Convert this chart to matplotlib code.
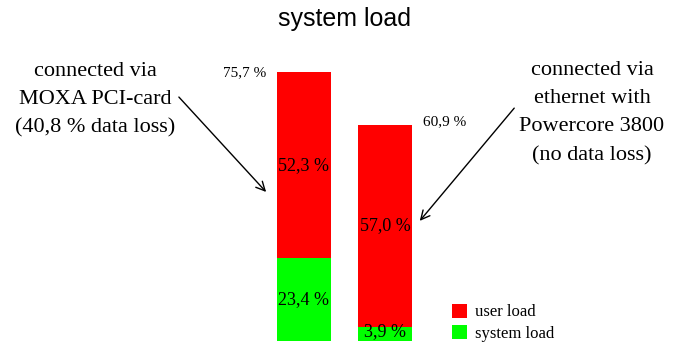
import matplotlib.pyplot as plt

# data
setups = ["MOXA PCI-card", "ethernet / Powercore 3800"]
system_load = [23.4, 3.9]
user_load = [52.3, 57.0]
totals = [75.7, 60.9]
legend_labels = ["user load", "system load"]

H = 345
fig = plt.figure(figsize=(6.8, 3.45), dpi=100)
ax = fig.add_axes([223 / 680, 4 / H, 243 / 680, 284 / H])
ax.set_xlim(-1, 2)
ax.set_ylim(0, 80)
ax.axis('off')

x = [0, 1]
w = 54 / 81
b1 = ax.bar(x, system_load, width=w, color='#00ff00', label=legend_labels[1])
b2 = ax.bar(x, user_load, width=w, bottom=system_load, color='#ff0000', label=legend_labels[0])

serif = 'Liberation Serif'
# inside labels
for i in range(2):
    ax.text(x[i], system_load[i] + user_load[i] / 2, f"{user_load[i]:.1f} %".replace('.', ','),
            ha='center', va='center', family=serif, fontsize=13)
ax.text(x[0], system_load[0] / 2, f"{system_load[0]:.1f} %".replace('.', ','),
        ha='center', va='center', family=serif, fontsize=13)
ax.text(x[1], 0.3, f"{system_load[1]:.1f} %".replace('.', ','),
        ha='center', va='bottom', family=serif, fontsize=13)

# totals
ax.text(x[0] - w / 2 - 0.13, totals[0], f"{totals[0]:.1f} %".replace('.', ','),
        ha='right', va='center', family=serif, fontsize=11)
ax.text(x[1] + w / 2 + 0.13, totals[1] + 1, f"{totals[1]:.1f} %".replace('.', ','),
        ha='left', va='center', family=serif, fontsize=11)

# annotations
fig.text(95 / 680, 1 - 100 / H, "connected via\nMOXA PCI-card\n(40,8 % data loss)",
         ha='center', va='center', family=serif, fontsize=16, linespacing=1.66)
ax.annotate("", xy=(268, H - 194), xycoords='figure pixels',
            xytext=(177, H - 95), textcoords='figure pixels',
            arrowprops=dict(arrowstyle='->', color='black', lw=1, mutation_scale=16))
fig.text(592 / 680, 1 - 113 / H, "connected via\nethernet with\nPowercore 3800\n(no data loss)",
         ha='center', va='center', family=serif, fontsize=16, linespacing=1.66)
ax.annotate("", xy=(418, H - 223), xycoords='figure pixels',
            xytext=(516, H - 106), textcoords='figure pixels',
            arrowprops=dict(arrowstyle='->', color='black', lw=1, mutation_scale=16))

fig.text(344 / 680, 1 - 19 / H, "system load", ha='center', va='center',
         family='Liberation Sans', fontsize=18)

leg = fig.legend(handles=[b2, b1], labels=legend_labels, loc='lower left',
                 bbox_to_anchor=(452 / 680, 3 / H), frameon=False, borderpad=0,
                 borderaxespad=0, prop={'family': serif, 'size': 12},
                 handlelength=0.9, handleheight=0.9, handletextpad=0.5,
                 labelspacing=0.3)

fig.savefig("out.png", dpi=100)
